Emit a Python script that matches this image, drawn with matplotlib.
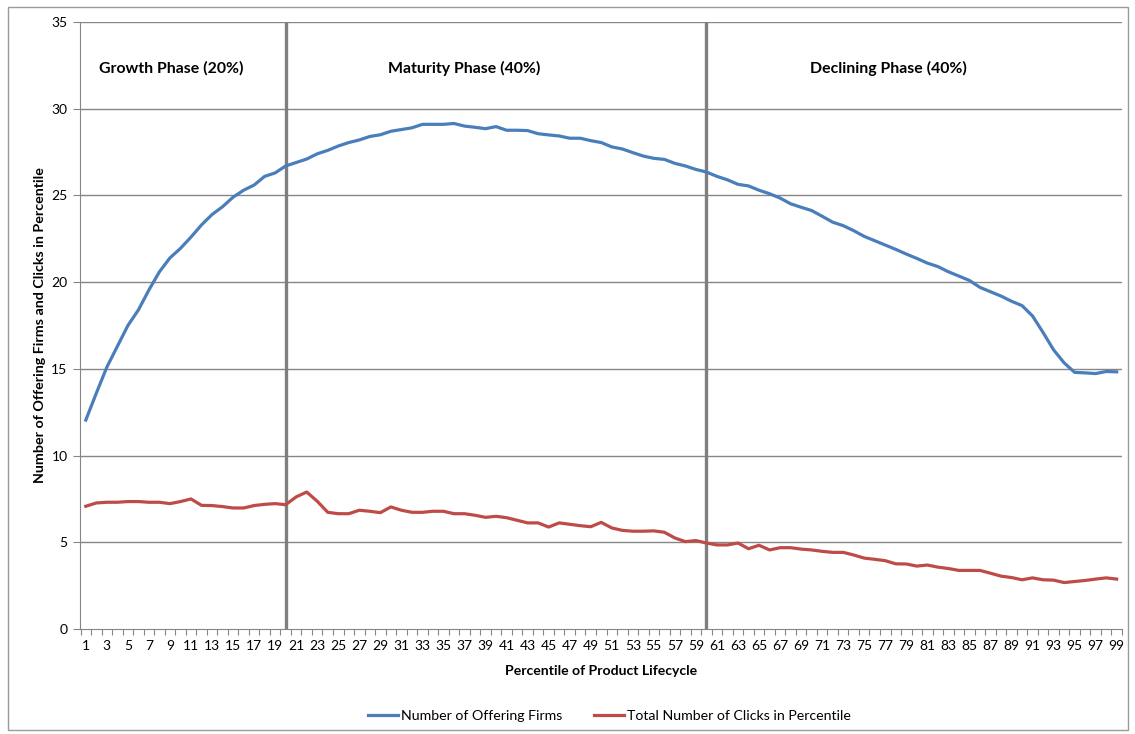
import numpy as np
import matplotlib
matplotlib.use("Agg")
import matplotlib.pyplot as plt
from matplotlib.patches import Rectangle

percentile = np.arange(1, 100)

offering_firms = [
    12.05, 13.6, 15.1, 16.3, 17.5, 18.4, 19.55, 20.6, 21.4, 21.95,
    22.6, 23.3, 23.9, 24.35, 24.9, 25.3, 25.6, 26.1, 26.3, 26.7,
    26.9, 27.1, 27.4, 27.6, 27.85, 28.05, 28.2, 28.4, 28.5, 28.7,
    28.8, 28.9, 29.1, 29.1, 29.1, 29.15, 29.0, 28.93, 28.85, 28.97,
    28.76, 28.76, 28.74, 28.56, 28.49, 28.43, 28.3, 28.3, 28.16, 28.05,
    27.8, 27.68, 27.47, 27.27, 27.14, 27.08, 26.85, 26.7, 26.5, 26.35,
    26.1, 25.9, 25.64, 25.55, 25.3, 25.1, 24.85, 24.52, 24.32, 24.13,
    23.8, 23.46, 23.26, 22.97, 22.64, 22.39, 22.14, 21.89, 21.62, 21.37,
    21.1, 20.9, 20.6, 20.35, 20.1, 19.7, 19.45, 19.2, 18.9, 18.65,
    18.05, 17.1, 16.1, 15.35, 14.8, 14.77, 14.73, 14.85, 14.83,
]

clicks = [
    7.08, 7.27, 7.31, 7.31, 7.35, 7.35, 7.31, 7.31, 7.23, 7.35,
    7.5, 7.13, 7.12, 7.06, 6.98, 6.98, 7.12, 7.19, 7.23, 7.17,
    7.62, 7.9, 7.37, 6.73, 6.65, 6.65, 6.85, 6.79, 6.71, 7.04,
    6.85, 6.73, 6.73, 6.79, 6.79, 6.65, 6.65, 6.56, 6.44, 6.5,
    6.42, 6.27, 6.12, 6.12, 5.88, 6.12, 6.04, 5.96, 5.9, 6.15,
    5.83, 5.69, 5.64, 5.64, 5.66, 5.58, 5.25, 5.04, 5.1, 4.96,
    4.85, 4.85, 4.96, 4.63, 4.83, 4.56, 4.69, 4.69, 4.61, 4.56,
    4.48, 4.42, 4.42, 4.27, 4.09, 4.02, 3.94, 3.76, 3.75, 3.63,
    3.69, 3.57, 3.49, 3.38, 3.38, 3.38, 3.22, 3.05, 2.97, 2.84,
    2.95, 2.84, 2.82, 2.68, 2.74, 2.8, 2.88, 2.95, 2.88,
]

phase_bounds = [20, 60]
phase_labels = ["Growth Phase (20%)", "Maturity Phase (40%)", "Declining Phase (40%)"]
phase_label_x = [9.1, 37.0, 77.3]

plt.rcParams['font.family'] = ['Lato', 'DejaVu Sans']

fig = plt.figure(figsize=(11.35, 7.34), dpi=100)
fig.patches.append(Rectangle((0.007, 0.006), 0.987, 0.985, transform=fig.transFigure,
                             fill=False, edgecolor='#9a9a9a', linewidth=1.0))
ax = fig.add_axes([0.0705, 0.143, 0.918, 0.827])

grid_c = '#868686'
for y in range(5, 40, 5):
    ax.axhline(y, color=grid_c, linewidth=1.0, zorder=1)
for xb in phase_bounds:
    ax.axvline(xb, color='#7f7f7f', linewidth=2.4, zorder=2)

ax.plot(percentile, offering_firms, color='#4A7EBB', linewidth=2.3, label='Number of Offering Firms', zorder=3)
ax.plot(percentile, clicks, color='#BE4B48', linewidth=2.3, label='Total Number of Clicks in Percentile', zorder=3)

for txt, xp in zip(phase_labels, phase_label_x):
    ax.text(xp, 32.35, txt, ha='center', va='center', fontsize=11.4, fontweight='bold')

ax.set_xlim(0.45, 99.4)
ax.set_ylim(0, 35)
ax.set_yticks(range(0, 40, 5))
ax.set_xticks(np.arange(0.5, 100, 1))
ax.set_xticklabels([])
ax.set_xticks(percentile[::2], minor=True)
ax.set_xticklabels([str(p) for p in percentile[::2]], minor=True)
ax.tick_params(axis='x', which='major', length=4, color=grid_c, direction='out')
ax.tick_params(axis='x', which='minor', length=0, labelsize=10, pad=8)
ax.tick_params(axis='y', length=5, color=grid_c, labelsize=10, pad=4)

for side in ['top', 'right']:
    ax.spines[side].set_visible(False)
for side in ['left', 'bottom']:
    ax.spines[side].set_color(grid_c)

ax.set_xlabel('Percentile of Product Lifecycle', fontsize=10.1, fontweight='bold', labelpad=9)
ax.set_ylabel('Number of Offering Firms and Clicks in Percentile', fontsize=10.3, fontweight='bold', labelpad=4)

fig.legend(loc='center', bbox_to_anchor=(0.537, 0.025), ncol=2, frameon=False,
           fontsize=10.2, handlelength=2.1, columnspacing=2.2, handletextpad=0.25)

fig.savefig('out.png', dpi=100)
